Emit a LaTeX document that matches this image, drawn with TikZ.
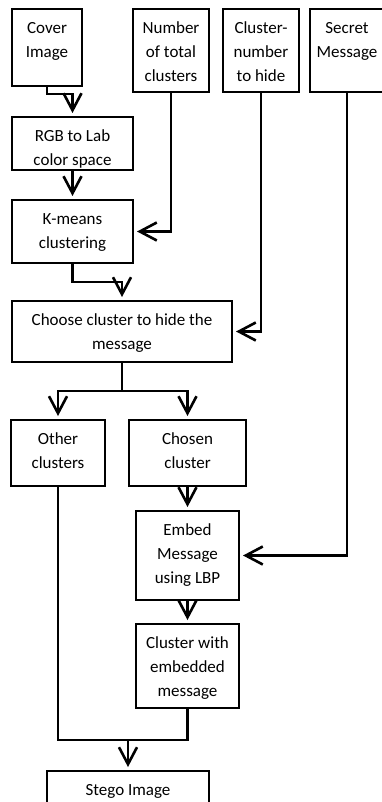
\documentclass[tikz,border=0pt]{standalone}
\usepackage{fontspec}
\setmainfont{Carlito}
\usetikzlibrary{arrows.meta,calc}
\newcommand{\bt}[3]{\parbox[c][#2pt][t]{#1pt}{\centering\rule{0pt}{24.5pt}#3\par}}
\begin{document}
\begin{tikzpicture}[x=1pt,y=-1pt,
  box/.style={draw,line width=2pt,inner sep=0pt,outer sep=0pt,anchor=north west,font=\fontsize{17}{24}\selectfont},
  conn/.style={line width=2.6pt},
  arr/.style={conn,-{Straight Barb[length=17pt,width=18pt]},shorten >=4pt}]
\useasboundingbox (0,0) rectangle (382,802);
\node[box] (cover)   at (12,9)   {\bt{70}{77}{Cover\\Image}};
\node[box] (total)   at (133,9)  {\bt{76}{83}{Number\\of total\\clusters}};
\node[box] (hidenum) at (223,9)  {\bt{76}{83}{Cluster-\\number\\to hide}};
\node[box] (secret)  at (310,9)  {\bt{74}{83}{Secret\\Message}};
\node[box] (rgb)     at (12,117) {\bt{121}{53}{RGB to Lab\\color space}};
\node[box] (kmeans)  at (12,200) {\bt{121}{63}{K-means\\clustering}};
\node[box] (choose)  at (12,301) {\bt{220}{61}{Choose cluster to hide the\\message}};
\node[box] (other)   at (11,420) {\bt{94}{66}{Other\\clusters}};
\node[box] (chosen)  at (129,420){\bt{117}{66}{Chosen\\cluster}};
\node[box] (embed)   at (136,511){\bt{103}{89}{Embed\\Message\\using LBP}};
\node[box] (withmsg) at (136,624){\bt{103}{84}{Cluster with\\embedded\\message}};
\node[box] (stego)   at (47,771) {\bt{162}{41}{Stego Image}};
\coordinate (split) at ($(choose.south)+(0,29)$);
\draw[arr] (cover.south) -- ++(0,8) -| (rgb.north);
\draw[arr] (rgb.south) -- (kmeans.north);
\draw[arr] (total.south) |- (kmeans.east);
\draw[arr] (kmeans.south) -- ++(0,19) -| (choose.north);
\draw[arr] (hidenum.south) |- (choose.east);
\draw[conn] (choose.south) -- (split);
\draw[arr] (split) -| (other.north);
\draw[arr] (split) -| (chosen.north);
\draw[arr] (chosen.south) -- (embed.north);
\draw[arr] (secret.south) |- (embed.east);
\draw[arr] (embed.south) -- (withmsg.north);
\coordinate (join) at (128,740);
\draw[conn] (other.south) |- (join) -| (withmsg.south);
\draw[arr] (join) -- (stego.north);
\end{tikzpicture}
\end{document}
